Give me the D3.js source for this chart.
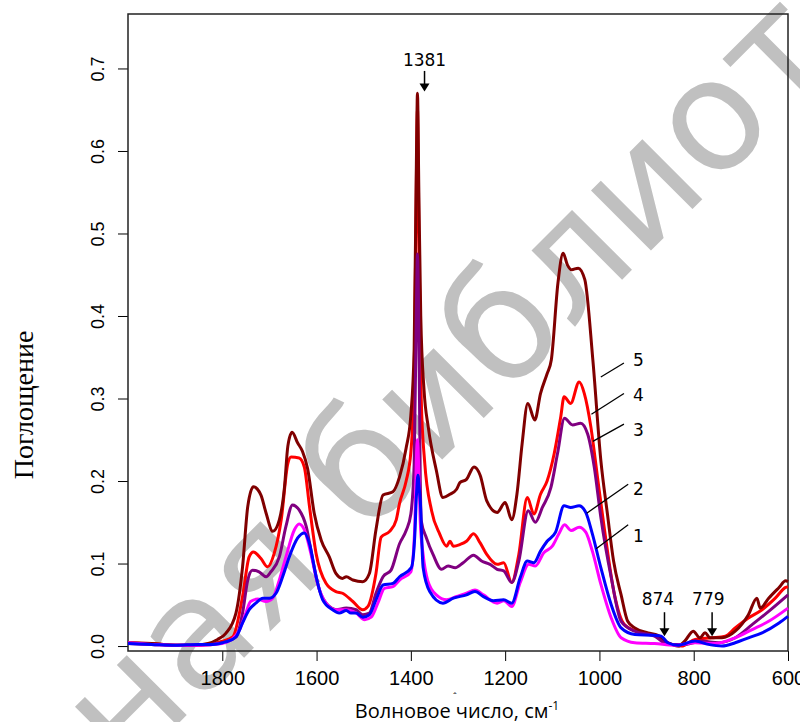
<!DOCTYPE html>
<html>
<head>
    <meta charset="utf-8">
    <title>ИК-спектры</title>
    <script src="https://cdn.jsdelivr.net/npm/d3@7"></script>
    <style>
        html, body { margin: 0; padding: 0; background: #fff; }
        svg { display: block; background: #fff; }
        .tick text { font-family: "Liberation Sans", Arial, sans-serif; fill: #000; }
        .tick line { stroke: #000; }
        .note { font-family: "DejaVu Sans", Verdana, sans-serif; font-size: 17px; fill: #000; }
    </style>
</head>
<body>
<svg></svg>
<script>
// wavenumber (cm-1), absorbance
var s1 = [[2000,0.004],[1950,0.002],[1900,0.001],[1850,0.001],[1800,0.003],[1780,0.008],[1764,0.019],[1750,0.040],[1740,0.054],[1725,0.057],[1707,0.054],[1693,0.058],[1679,0.080],[1665,0.108],[1647,0.141],[1637,0.148],[1626,0.141],[1612,0.112],[1598,0.076],[1580,0.052],[1559,0.044],[1537,0.044],[1516,0.040],[1498,0.032],[1484,0.035],[1470,0.052],[1456,0.070],[1438,0.072],[1424,0.080],[1400,0.090],[1392,0.140],[1388,0.230],[1386,0.250],[1383,0.210],[1380,0.150],[1374,0.111],[1364,0.079],[1346,0.062],[1324,0.056],[1303,0.060],[1282,0.064],[1264,0.068],[1246,0.062],[1217,0.052],[1203,0.055],[1186,0.048],[1168,0.077],[1150,0.099],[1136,0.097],[1118,0.113],[1100,0.121],[1086,0.136],[1074,0.147],[1060,0.140],[1043,0.144],[1029,0.138],[1015,0.115],[997,0.075],[975,0.034],[954,0.010],[925,0.004],[883,0.003],[840,0.001],[797,0.004],[754,0.003],[712,0.010],[676,0.020],[641,0.030],[600,0.046]];
var s2 = [[2000,0.003],[1950,0.002],[1900,0.001],[1850,0.002],[1820,0.002],[1793,0.005],[1771,0.011],[1757,0.028],[1743,0.044],[1729,0.052],[1714,0.058],[1700,0.058],[1686,0.064],[1672,0.084],[1658,0.108],[1640,0.131],[1626,0.137],[1615,0.124],[1601,0.084],[1587,0.056],[1566,0.044],[1552,0.040],[1537,0.043],[1527,0.040],[1516,0.040],[1502,0.035],[1488,0.038],[1474,0.056],[1459,0.074],[1438,0.076],[1424,0.084],[1399,0.095],[1392,0.130],[1388,0.184],[1385,0.207],[1382,0.190],[1380,0.176],[1374,0.095],[1360,0.066],[1332,0.052],[1310,0.058],[1282,0.062],[1264,0.066],[1246,0.060],[1225,0.055],[1203,0.056],[1186,0.052],[1168,0.083],[1153,0.103],[1139,0.101],[1125,0.115],[1111,0.127],[1093,0.138],[1075,0.170],[1061,0.168],[1043,0.170],[1029,0.162],[1015,0.136],[997,0.095],[975,0.050],[954,0.022],[925,0.014],[883,0.013],[869,0.012],[855,0.004],[833,0.001],[797,0.006],[769,0.002],[740,0.000],[712,0.004],[684,0.010],[655,0.016],[619,0.028],[600,0.036]];
var s3 = [[2000,0.003],[1950,0.002],[1900,0.001],[1850,0.001],[1800,0.004],[1771,0.011],[1757,0.040],[1746,0.080],[1736,0.092],[1722,0.090],[1707,0.084],[1697,0.090],[1679,0.108],[1665,0.145],[1651,0.171],[1637,0.165],[1622,0.145],[1608,0.104],[1594,0.068],[1573,0.048],[1559,0.044],[1537,0.046],[1516,0.044],[1502,0.038],[1488,0.040],[1474,0.064],[1459,0.084],[1442,0.092],[1424,0.124],[1410,0.140],[1400,0.160],[1393,0.220],[1388,0.420],[1386,0.475],[1383,0.380],[1380,0.200],[1378,0.152],[1367,0.131],[1353,0.111],[1335,0.093],[1321,0.097],[1306,0.095],[1289,0.101],[1267,0.110],[1250,0.103],[1232,0.099],[1217,0.093],[1203,0.091],[1186,0.077],[1171,0.103],[1151,0.164],[1136,0.150],[1121,0.168],[1103,0.192],[1089,0.233],[1074,0.276],[1057,0.268],[1040,0.270],[1025,0.257],[1011,0.217],[997,0.156],[975,0.083],[954,0.030],[925,0.018],[883,0.012],[855,0.002],[819,0.002],[783,0.006],[747,0.004],[712,0.010],[676,0.026],[641,0.042],[600,0.062]];
var s4 = [[2000,0.004],[1950,0.003],[1900,0.001],[1860,0.001],[1820,0.003],[1800,0.006],[1778,0.011],[1757,0.060],[1743,0.108],[1734,0.114],[1718,0.106],[1704,0.096],[1690,0.112],[1675,0.153],[1661,0.221],[1654,0.229],[1637,0.228],[1626,0.217],[1615,0.169],[1601,0.112],[1580,0.076],[1559,0.066],[1545,0.064],[1523,0.054],[1502,0.044],[1491,0.048],[1474,0.088],[1463,0.132],[1445,0.139],[1431,0.153],[1424,0.173],[1410,0.200],[1400,0.235],[1393,0.320],[1388,0.580],[1386,0.650],[1383,0.500],[1378,0.300],[1371,0.225],[1356,0.164],[1339,0.136],[1324,0.121],[1317,0.127],[1310,0.121],[1296,0.123],[1282,0.127],[1267,0.136],[1253,0.125],[1239,0.111],[1217,0.099],[1203,0.101],[1186,0.077],[1171,0.111],[1153,0.180],[1139,0.160],[1125,0.184],[1111,0.200],[1096,0.233],[1082,0.278],[1075,0.302],[1061,0.294],[1043,0.320],[1032,0.306],[1018,0.265],[1004,0.204],[990,0.144],[968,0.062],[947,0.026],[911,0.016],[876,0.012],[855,0.004],[826,0.000],[797,0.008],[762,0.010],[733,0.012],[712,0.022],[684,0.034],[655,0.044],[627,0.058],[605,0.071],[600,0.072]];
var s5 = [[2000,0.004],[1950,0.003],[1900,0.001],[1860,0.001],[1830,0.003],[1810,0.008],[1793,0.015],[1771,0.040],[1757,0.096],[1746,0.169],[1734,0.193],[1718,0.183],[1707,0.161],[1693,0.139],[1679,0.153],[1668,0.193],[1661,0.242],[1652,0.259],[1640,0.246],[1630,0.236],[1619,0.215],[1605,0.161],[1590,0.128],[1573,0.108],[1559,0.088],[1545,0.082],[1537,0.084],[1523,0.080],[1502,0.078],[1488,0.088],[1474,0.141],[1459,0.183],[1438,0.187],[1424,0.205],[1410,0.240],[1400,0.280],[1393,0.360],[1388,0.600],[1386,0.670],[1383,0.550],[1379,0.400],[1372,0.310],[1363,0.265],[1346,0.213],[1332,0.180],[1317,0.184],[1303,0.190],[1296,0.198],[1282,0.202],[1266,0.217],[1253,0.207],[1239,0.176],[1217,0.162],[1200,0.174],[1186,0.153],[1175,0.184],[1164,0.245],[1152,0.294],[1137,0.274],[1125,0.306],[1111,0.330],[1102,0.347],[1088,0.440],[1077,0.476],[1068,0.462],[1059,0.456],[1045,0.458],[1031,0.444],[1014,0.347],[997,0.225],[983,0.160],[970,0.103],[954,0.062],[940,0.030],[925,0.022],[897,0.016],[876,0.013],[855,0.004],[833,0.000],[819,0.006],[801,0.018],[787,0.010],[776,0.016],[765,0.010],[740,0.010],[712,0.018],[684,0.038],[666,0.058],[659,0.046],[641,0.058],[619,0.071],[605,0.079],[600,0.078]];

var seriesNames = ['1', '2', '3', '4', '5'];
var seriesColors = ['#ff00ff', '#0000ff', '#800080', '#ff0000', '#800000'];
var drawOrder = [3, 4, 2, 0, 1];   // red under dark red, blue on top

var xTicks = [1800, 1600, 1400, 1200, 1000, 800, 600];
var yTicks = [0.0, 0.1, 0.2, 0.3, 0.4, 0.5, 0.6, 0.7];

// curve labels: leader from (x0,y0) to (x1,y1), number at (tx,ty)
var curveLabels = [
    { name: '5', x0: 997,  y0: 0.326, x1: 948, y1: 0.343, tx: 929, ty: 0.339 },
    { name: '4', x0: 1017, y0: 0.281, x1: 948, y1: 0.306, tx: 929, ty: 0.297 },
    { name: '3', x0: 1014, y0: 0.248, x1: 948, y1: 0.269, tx: 929, ty: 0.255 },
    { name: '2', x0: 1027, y0: 0.161, x1: 939, y1: 0.196, tx: 929, ty: 0.183 },
    { name: '1', x0: 1007, y0: 0.118, x1: 939, y1: 0.147, tx: 929, ty: 0.126 }
];

// peak marks: text at tx, arrow at ax from a0 down to a1
var peakMarks = [
    { label: '1381', tx: 1371, ty: 0.703, ax: 1371, a0: 0.697, a1: 0.672 },
    { label: '874',  tx: 876,  ty: 0.050, ax: 862,  a0: 0.041, a1: 0.012 },
    { label: '779',  tx: 769,  ty: 0.050, ax: 761,  a0: 0.041, a1: 0.012 }
];

(function () {
    var W = 800, H = 722,
        m = { left: 128, right: 12, top: 14, bottom: 71 };

    var svg = d3.select('svg').attr('width', W).attr('height', H);

    var x = d3.scaleLinear().domain([2000, 600]).range([m.left, W - m.right]);
    var y = d3.scaleLinear().domain([-0.006, 0.766]).range([H - m.bottom, m.top]);

    // watermark, behind everything
    var wm = svg.append('text')
        .text('Электронная библиотека')
        .style('font-family', '"DejaVu Sans", Verdana, sans-serif')
        .style('font-size', '155px')
        .style('fill', '#c0c0c0');
    var ext = wm.node().getExtentOfChar(17),   // the "о" of библиотека
        cx = ext.x + ext.width / 2,
        cy = ext.y + ext.height / 2,
        c = Math.SQRT1_2,
        rx = c * cx + c * cy,
        ry = -c * cx + c * cy;
    wm.attr('transform', 'translate(' + (708 - rx) + ',' + (118 - ry) + ')rotate(-45)');

    // axes
    var xAxis = svg.append('g')
        .attr('transform', 'translate(0,' + (H - m.bottom) + ')')
        .call(d3.axisBottom(x).tickValues(xTicks).tickSize(10).tickPadding(10).tickFormat(d3.format('d')));
    xAxis.select('.domain').remove();
    xAxis.selectAll('.tick text').style('font-size', '20px');

    var yAxis = svg.append('g')
        .attr('transform', 'translate(' + m.left + ',0)')
        .call(d3.axisLeft(y).tickValues(yTicks).tickSize(10).tickFormat(d3.format('.1f')));
    yAxis.select('.domain').remove();
    yAxis.selectAll('.tick text')
        .style('font-size', '18px')
        .attr('text-anchor', 'middle')
        .attr('x', null).attr('dy', null)
        .attr('transform', 'translate(-24,0)rotate(-90)');

    // frame
    svg.append('rect')
        .attr('x', m.left).attr('y', m.top)
        .attr('width', W - m.right - m.left)
        .attr('height', H - m.bottom - m.top)
        .style('fill', 'none').style('stroke', '#222').style('stroke-width', 1.5);

    // spectra
    var line = d3.line()
        .x(function (d) { return x(d[0]); })
        .y(function (d) { return y(d[1]); })
        .curve(d3.curveMonotoneX);
    var all = [s1, s2, s3, s4, s5];

    svg.append('g').selectAll('path')
        .data(drawOrder)
        .enter().append('path')
        .attr('d', function (i) { return line(all[i]); })
        .style('fill', 'none')
        .style('stroke', function (i) { return seriesColors[i]; })
        .style('stroke-width', 3)
        .style('stroke-linejoin', 'round');

    // curve numbers
    var lg = svg.append('g');
    curveLabels.forEach(function (l) {
        lg.append('line')
            .attr('x1', x(l.x0)).attr('y1', y(l.y0))
            .attr('x2', x(l.x1)).attr('y2', y(l.y1))
            .style('stroke', '#000').style('stroke-width', 1.3);
        lg.append('text').attr('class', 'note')
            .attr('x', x(l.tx)).attr('y', y(l.ty))
            .text(l.name);
    });

    // peak arrows
    peakMarks.forEach(function (p) {
        var ax = x(p.ax), top = y(p.a0), tip = y(p.a1);
        lg.append('text').attr('class', 'note')
            .attr('x', x(p.tx)).attr('y', y(p.ty))
            .attr('text-anchor', 'middle')
            .text(p.label);
        lg.append('line')
            .attr('x1', ax).attr('y1', top).attr('x2', ax).attr('y2', tip - 6)
            .style('stroke', '#000').style('stroke-width', 1.5);
        lg.append('path')
            .attr('d', 'M' + (ax - 5) + ',' + (tip - 8) + 'L' + (ax + 5) + ',' + (tip - 8) + 'L' + ax + ',' + tip + 'Z')
            .style('fill', '#000');
    });

    // axis titles
    svg.append('text')
        .attr('transform', 'translate(33,405)rotate(-90)')
        .attr('text-anchor', 'middle')
        .style('font-family', '"Liberation Serif", "Times New Roman", serif')
        .style('font-size', '28px')
        .text('Поглощение');

    svg.append('text')
        .attr('x', 455).attr('y', 701)
        .attr('text-anchor', 'middle')
        .style('font-family', '"Liberation Sans", Arial, sans-serif')
        .style('font-size', '10px')
        .text('ˆ');

    var xt = svg.append('text')
        .attr('x', 457).attr('y', 718)
        .attr('text-anchor', 'middle')
        .style('font-family', '"Open Sans", "Noto Sans", sans-serif')
        .style('font-size', '20px');
    xt.append('tspan').text('Волновое число, см');
    xt.append('tspan').attr('dy', -8).style('font-size', '12px').text('-1');
})();
</script>
</body>
</html>
